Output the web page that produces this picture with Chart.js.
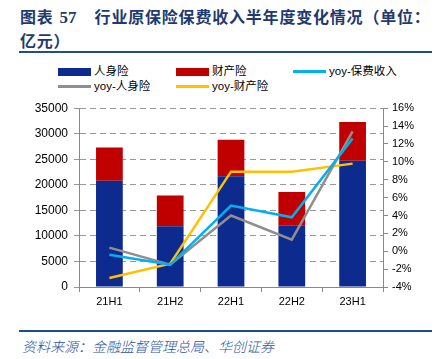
<!DOCTYPE html>
<html>
<head>
<meta charset="utf-8">
<script src="https://cdn.jsdelivr.net/npm/chart.js@4"></script>
<style>
  body { margin: 0; width: 436px; height: 359px; background: #fff; position: relative; overflow: hidden; font-family: "Liberation Sans", Arial, sans-serif; }
  .title { position: absolute; left: 20px; top: 5px; font-family: "Noto Sans CJK SC"; font-weight: bold; font-size: 16px; line-height: 23px; color: #1f3a6e; letter-spacing: 0.8px; white-space: nowrap; }
  .title .num { font-family: "Liberation Serif"; font-size: 17px; margin-left: 6px; margin-right: 18px; letter-spacing: 0; }
  .rule { position: absolute; left: 19px; width: 413px; height: 2px; background: #1f4e8c; }
  .legend { position: absolute; left: 0; top: 64px; width: 436px; height: 30px; font-size: 11.5px; color: #000; }
  .item { position: absolute; height: 15px; line-height: 15px; white-space: nowrap; font-family: "Liberation Sans", "Noto Sans CJK SC"; }
  .item span { display: inline-block; width: 33px; vertical-align: middle; margin-right: 3px; }
  .src { position: absolute; left: 22px; top: 336px; font-family: "Noto Sans CJK SC"; font-style: italic; font-size: 14px; color: #2a4f9e; font-weight: 300; }
  #wrap { position: absolute; left: 0; top: 95px; width: 436px; height: 220px; }
</style>
</head>
<body>
<div class="title">图表<span class="num">57</span>行业原保险保费收入半年度变化情况（单位：<br>亿元）</div>
<div class="rule" style="top:51px"></div>
<div class="legend" id="legend"></div>
<div id="wrap"><canvas id="chart" width="436" height="220"></canvas></div>
<div class="rule" style="top:330px"></div>
<div class="src">资料来源：金融监督管理总局、华创证券</div>
<script>
const categories = ['21H1', '21H2', '22H1', '22H2', '23H1'];
const lifeValues = [20800, 11900, 21700, 12000, 24700];
const propertyValues = [6500, 6000, 7100, 6600, 7600];
const yoyPremium = [-0.4, -1.5, 5.1, 3.8, 12.6];
const yoyLife = [0.4, -1.5, 4.0, 1.3, 13.4];
const yoyProperty = [-3.0, -1.4, 8.9, 8.9, 9.8];

const BLUE = '#0d2b8e', RED = '#c00000', CYAN = '#00b0f0', GRAY = '#8f8f8f', YELLOW = '#ffc000';

// html legend, laid out like the original (3 columns)
const legendItems = [
  { label: '人身险', color: BLUE, bar: true, x: 58, y: 0 },
  { label: '财产险', color: RED, bar: true, x: 176, y: 0 },
  { label: 'yoy-保费收入', color: CYAN, bar: false, x: 293, y: 0 },
  { label: 'yoy-人身险', color: GRAY, bar: false, x: 58, y: 15 },
  { label: 'yoy-财产险', color: YELLOW, bar: false, x: 176, y: 15 },
];
const legend = document.getElementById('legend');
legendItems.forEach(it => {
  const d = document.createElement('div');
  d.className = 'item';
  d.style.left = it.x + 'px';
  d.style.top = it.y + 'px';
  const sw = document.createElement('span');
  sw.style.background = it.color;
  sw.style.height = it.bar ? '8px' : '3px';
  d.appendChild(sw);
  d.appendChild(document.createTextNode(it.label));
  legend.appendChild(d);
});

const tickFont = { family: 'Liberation Sans', size: 11 };

new Chart(document.getElementById('chart'), {
  data: {
    labels: categories,
    datasets: [
      { type: 'bar', label: '人身险', data: lifeValues, backgroundColor: BLUE, yAxisID: 'y', order: 2 },
      { type: 'bar', label: '财产险', data: propertyValues, backgroundColor: RED, yAxisID: 'y', order: 2 },
      { type: 'line', label: 'yoy-保费收入', data: yoyPremium, borderColor: CYAN, borderWidth: 2.5, pointRadius: 0, yAxisID: 'y1', order: 1 },
      { type: 'line', label: 'yoy-人身险', data: yoyLife, borderColor: GRAY, borderWidth: 2.5, pointRadius: 0, yAxisID: 'y1', order: 1 },
      { type: 'line', label: 'yoy-财产险', data: yoyProperty, borderColor: YELLOW, borderWidth: 2.5, pointRadius: 0, yAxisID: 'y1', order: 1 },
    ],
  },
  options: {
    responsive: false,
    devicePixelRatio: 1,
    animation: false,
    layout: { padding: { top: 11 } },
    datasets: { bar: { barPercentage: 0.44, categoryPercentage: 1 } },
    plugins: { legend: { display: false }, tooltip: { enabled: false } },
    scales: {
      x: {
        stacked: true,
        grid: { offset: true, drawOnChartArea: false, tickLength: 5, color: '#888' },
        border: { color: '#888' },
        ticks: { font: tickFont, color: '#000', padding: 3 },
        afterFit: s => { s.height = 28; },
      },
      y: {
        stacked: true,
        position: 'left',
        min: 0, max: 35000,
        ticks: { stepSize: 5000, font: { family: 'Liberation Sans', size: 12 }, color: '#000', padding: 6, callback: v => String(v) },
        grid: { color: '#999', tickLength: 5 },
        border: { color: '#888', dash: [6, 4] },
        afterFit: s => { s.width = 79; },
      },
      y1: {
        position: 'right',
        min: -4, max: 16,
        ticks: { stepSize: 2, font: tickFont, color: '#000', padding: 4, callback: v => v + '%' },
        grid: { drawOnChartArea: false, color: '#888', tickLength: 5 },
        border: { color: '#888' },
        afterFit: s => { s.width = 53; },
      },
    },
  },
});
</script>
</body>
</html>
